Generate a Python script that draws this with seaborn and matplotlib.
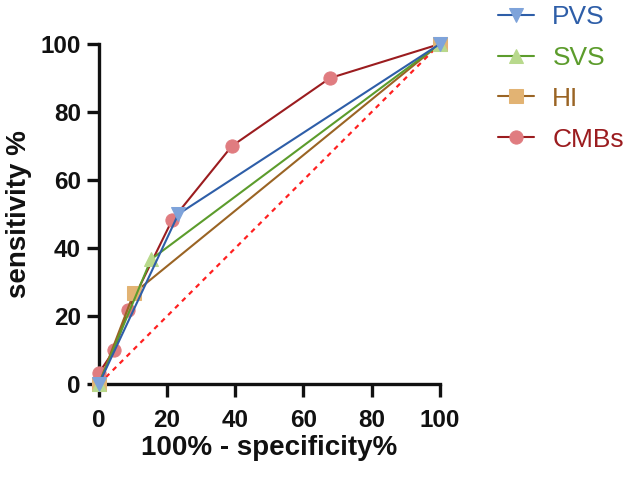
import matplotlib
matplotlib.use('Agg')
import matplotlib.pyplot as plt
import seaborn as sns

sns.set_style('ticks')
plt.rcParams['font.family'] = ['Liberation Sans', 'DejaVu Sans']

# ROC points (100% - specificity%, sensitivity %)
pvs_x = [0, 23.3, 100]
pvs_y = [0, 50.0, 100]
svs_x = [0, 15.3, 100]
svs_y = [0, 36.7, 100]
hi_x = [0, 10.2, 100]
hi_y = [0, 26.7, 100]
cmb_x = [0, 4.5, 8.5, 21.5, 39.0, 67.8, 100]
cmb_y = [3.3, 10.0, 21.7, 48.3, 70.0, 90.0, 100]

labels = ['PVS', 'SVS', 'HI', 'CMBs']
line_colors = ['#2e5ea8', '#5c9c2c', '#9a6424', '#9b1c1f']
face_colors = ['#7ea3da', '#b8d98c', '#e2b373', '#e07c80']
markers = ['v', '^', 's', 'o']
series = [(pvs_x, pvs_y), (svs_x, svs_y), (hi_x, hi_y), (cmb_x, cmb_y)]

fig = plt.figure(figsize=(6.3, 4.79), dpi=100)
ax = fig.add_axes([0.157, 0.198, 0.541, 0.71])

# reference diagonal
sns.lineplot(x=[0, 100], y=[0, 100], ax=ax, color='#ff2020', linestyle=(0, (2.2, 2.2)),
             linewidth=1.6, zorder=1)

# draw CMBs first so the other markers sit on top
for i in [3, 2, 1, 0]:
    xs, ys = series[i]
    sns.lineplot(x=xs, y=ys, ax=ax, sort=False, estimator=None, color=line_colors[i],
                 linewidth=1.5, marker=markers[i], markersize=10 if markers[i] != 'o' else 9.5,
                 markerfacecolor=face_colors[i], markeredgecolor=face_colors[i],
                 label=labels[i], zorder=3 + (3 - i), clip_on=False)

ax.set_xlim(0, 100)
ax.set_ylim(0, 100)
ax.set_xticks([0, 20, 40, 60, 80, 100])
ax.set_yticks([0, 20, 40, 60, 80, 100])
ax.tick_params(width=2.4, length=9, labelsize=17.5, pad=4, color='#111111', labelcolor='#111111')
ax.tick_params(axis='x', pad=9)
for lab in ax.get_xticklabels() + ax.get_yticklabels():
    lab.set_fontweight('bold')
for s in ['left', 'bottom']:
    ax.spines[s].set_linewidth(2.4)
    ax.spines[s].set_color('#111111')
sns.despine(ax=ax)
ax.set_xlabel('100% - specificity%', fontsize=20, fontweight='bold', labelpad=2, color='#111111')
ax.set_ylabel('sensitivity %', fontsize=20, fontweight='bold', labelpad=6, color='#111111')

handles, hlabels = ax.get_legend_handles_labels()
order = [hlabels.index(l) for l in labels]
leg = ax.legend([handles[k] for k in order], labels, loc='upper left',
                bbox_to_anchor=(1.102, 1.185), frameon=False, fontsize=19,
                handlelength=1.35, labelspacing=0.64, handletextpad=0.7)
for txt, c in zip(leg.get_texts(), line_colors):
    txt.set_color(c)

fig.savefig('out.png', dpi=100)
